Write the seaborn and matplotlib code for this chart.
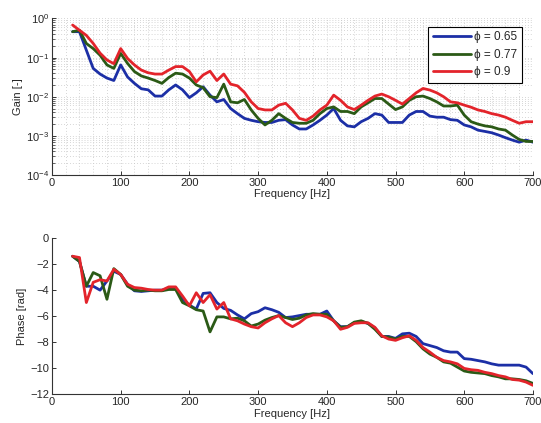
import numpy as np
import pandas as pd
import matplotlib
matplotlib.use("Agg")
import matplotlib.pyplot as plt
from matplotlib.ticker import MultipleLocator, LogLocator, NullFormatter
import seaborn as sns

freq = list(range(30, 701, 10))

gain_065 = [0.46, 0.46, 0.155, 0.053, 0.038, 0.030, 0.026, 0.065, 0.032, 0.022,
            0.016, 0.015, 0.0104, 0.0104, 0.015, 0.020, 0.015, 0.0095, 0.0126, 0.018,
            0.011, 0.0074, 0.0085, 0.0050, 0.0037, 0.0028, 0.0025, 0.0023, 0.0022, 0.0022,
            0.0025, 0.0026, 0.0019, 0.0015, 0.0015, 0.0019, 0.0025, 0.0034, 0.0050, 0.0025,
            0.0018, 0.0017, 0.0023, 0.0028, 0.0037, 0.0034, 0.0022, 0.0022, 0.0022, 0.0034,
            0.0042, 0.0042, 0.0032, 0.0030, 0.0030, 0.0026, 0.0025, 0.0019, 0.0017, 0.0014,
            0.0013, 0.0012, 0.00105, 0.0009, 0.00078, 0.00069, 0.00078, 0.00069]
gain_077 = [0.46, 0.50, 0.23, 0.17, 0.115, 0.065, 0.053, 0.128, 0.071, 0.044,
            0.034, 0.030, 0.026, 0.022, 0.031, 0.040, 0.038, 0.030, 0.020, 0.017,
            0.010, 0.0095, 0.021, 0.0074, 0.0070, 0.0085, 0.0046, 0.0028, 0.0019, 0.0025,
            0.0037, 0.0028, 0.0022, 0.0021, 0.0021, 0.0025, 0.0037, 0.0050, 0.0055, 0.0042,
            0.0042, 0.0037, 0.0055, 0.0070, 0.0090, 0.0090, 0.0065, 0.0047, 0.0055, 0.0081,
            0.0100, 0.0104, 0.0090, 0.0074, 0.0058, 0.0058, 0.0061, 0.0034, 0.0023, 0.0020,
            0.0018, 0.0017, 0.0015, 0.0014, 0.00105, 0.00081, 0.00072, 0.00072]
gain_090 = [0.68, 0.50, 0.37, 0.23, 0.13, 0.087, 0.070, 0.17, 0.095, 0.065,
            0.048, 0.041, 0.038, 0.038, 0.048, 0.059, 0.059, 0.044, 0.024, 0.036,
            0.045, 0.026, 0.038, 0.021, 0.019, 0.013, 0.0074, 0.0050, 0.0046, 0.0046,
            0.0061, 0.0068, 0.0046, 0.0028, 0.0025, 0.0032, 0.0046, 0.0061, 0.011, 0.0081,
            0.0055, 0.0047, 0.0061, 0.0081, 0.0104, 0.0117, 0.0100, 0.0081, 0.0065, 0.0090,
            0.0126, 0.0163, 0.0148, 0.0126, 0.0100, 0.0074, 0.0070, 0.0061, 0.0054, 0.0046,
            0.0042, 0.0037, 0.0034, 0.0030, 0.0025, 0.0021, 0.0023, 0.0023]

phase_065 = [-1.4, -1.8, -3.7, -3.7, -4.0, -3.3, -2.55, -2.8, -3.55, -4.05,
             -4.1, -4.05, -4.0, -4.0, -3.85, -3.85, -4.7, -5.15, -5.45, -4.25,
             -4.2, -4.95, -5.4, -5.55, -5.9, -6.2, -5.8, -5.65, -5.35, -5.5,
             -5.7, -6.1, -6.05, -5.95, -5.85, -5.85, -5.85, -5.6, -6.35, -6.8,
             -6.8, -6.5, -6.4, -6.55, -6.9, -7.55, -7.55, -7.7, -7.35, -7.3,
             -7.55, -8.1, -8.25, -8.4, -8.65, -8.75, -8.75, -9.25, -9.3, -9.4,
             -9.5, -9.65, -9.75, -9.75, -9.75, -9.75, -9.9, -10.4]
phase_077 = [-1.4, -1.8, -3.7, -2.65, -2.9, -4.7, -2.35, -2.8, -3.7, -4.0,
             -4.05, -4.0, -4.05, -4.05, -3.95, -3.95, -4.95, -5.2, -5.5, -5.6,
             -7.2, -6.05, -6.05, -6.2, -6.15, -6.35, -6.75, -6.6, -6.3, -6.1,
             -5.95, -6.1, -6.25, -6.15, -5.9, -5.8, -5.85, -5.85, -6.35, -6.85,
             -6.8, -6.45, -6.35, -6.55, -7.0, -7.55, -7.6, -7.75, -7.55, -7.55,
             -7.95, -8.5, -8.9, -9.15, -9.5, -9.6, -9.9, -10.2, -10.3, -10.35,
             -10.4, -10.55, -10.65, -10.8, -10.8, -10.85, -10.95, -11.15]
phase_090 = [-1.4, -1.5, -4.95, -3.4, -3.2, -3.3, -2.4, -2.8, -3.55, -3.8,
             -3.85, -3.95, -4.0, -4.0, -3.75, -3.75, -4.45, -5.2, -4.2, -4.95,
             -4.35, -5.45, -4.95, -6.2, -6.35, -6.6, -6.8, -6.9, -6.5, -6.2,
             -5.95, -6.5, -6.8, -6.5, -6.1, -5.9, -5.9, -6.05, -6.35, -7.0,
             -6.85, -6.55, -6.5, -6.5, -6.85, -7.5, -7.75, -7.85, -7.65, -7.5,
             -7.85, -8.4, -8.75, -9.15, -9.4, -9.5, -9.65, -10.0, -10.1, -10.15,
             -10.3, -10.4, -10.55, -10.65, -10.85, -10.9, -11.05, -11.3]

labels = ["\u03d5 = 0.65", "\u03d5 = 0.77", "\u03d5 = 0.9"]
colors = ["#1c2fa6", "#2b5a16", "#e3242b"]

rows = []
for lab, g, p in zip(labels, [gain_065, gain_077, gain_090], [phase_065, phase_077, phase_090]):
    for f, gv, pv in zip(freq, g, p):
        rows.append({"freq": f, "gain": gv, "phase": pv, "phi": lab})
df = pd.DataFrame(rows)

sns.set_theme(style="white")
plt.rcParams["font.family"] = ["Liberation Sans", "DejaVu Sans"]
plt.rcParams["xtick.direction"] = "in"
plt.rcParams["ytick.direction"] = "in"

fig = plt.figure(figsize=(5.41, 4.23), dpi=100)
ax1 = fig.add_axes([0.0961, 0.5863, 0.889, 0.370])
ax2 = fig.add_axes([0.0961, 0.0674, 0.889, 0.370])

palette = dict(zip(labels, colors))

sns.lineplot(data=df, x="freq", y="gain", hue="phi", palette=palette, ax=ax1,
             linewidth=2.0, estimator=None)
ax1.set_yscale("log")
ax1.set_ylim(1e-4, 1)
ax1.set_xlim(0, 700)
ax1.xaxis.set_major_locator(MultipleLocator(100))
ax1.xaxis.set_minor_locator(MultipleLocator(20))
ax1.yaxis.set_major_locator(LogLocator(base=10, numticks=10))
ax1.yaxis.set_minor_locator(LogLocator(base=10, subs=np.arange(2, 10), numticks=20))
ax1.yaxis.set_minor_formatter(NullFormatter())
ax1.grid(True, which="both", axis="both", linestyle=(0, (1, 2.5)), color="#c8c8c8", linewidth=0.6)
ax1.set_axisbelow(True)
ax1.set_xlabel("Frequency [Hz]", fontsize=8, labelpad=1)
ax1.set_ylabel("Gain [-]", fontsize=8, labelpad=2)
leg = ax1.legend(loc="upper right", bbox_to_anchor=(0.99, 0.985), fontsize=8.5,
                 frameon=True, fancybox=False, edgecolor="black", handlelength=3.2,
                 borderpad=0.4, labelspacing=0.45, handletextpad=0.3, framealpha=1)
leg.get_frame().set_linewidth(0.8)

sns.lineplot(data=df, x="freq", y="phase", hue="phi", palette=palette, ax=ax2,
             linewidth=2.0, estimator=None, legend=False)
ax2.set_xlim(0, 700)
ax2.set_ylim(-12, 0)
ax2.xaxis.set_major_locator(MultipleLocator(100))
ax2.yaxis.set_major_locator(MultipleLocator(2))
ax2.set_xlabel("Frequency [Hz]", fontsize=8, labelpad=1)
ax2.set_ylabel("Phase [rad]", fontsize=8, labelpad=2)

for ax in (ax1, ax2):
    sns.despine(ax=ax)
    for s in ("left", "bottom"):
        ax.spines[s].set_color("#333333")
        ax.spines[s].set_linewidth(0.8)
    ax.tick_params(axis="both", which="major", labelsize=8, length=3, width=0.7,
                   color="#333333", left=True, bottom=True, pad=2)
    ax.tick_params(axis="both", which="minor", length=0)
ax1.tick_params(axis="y", which="minor", length=1.8, width=0.5, left=True)

fig.savefig("out.png", dpi=100, facecolor="white")
